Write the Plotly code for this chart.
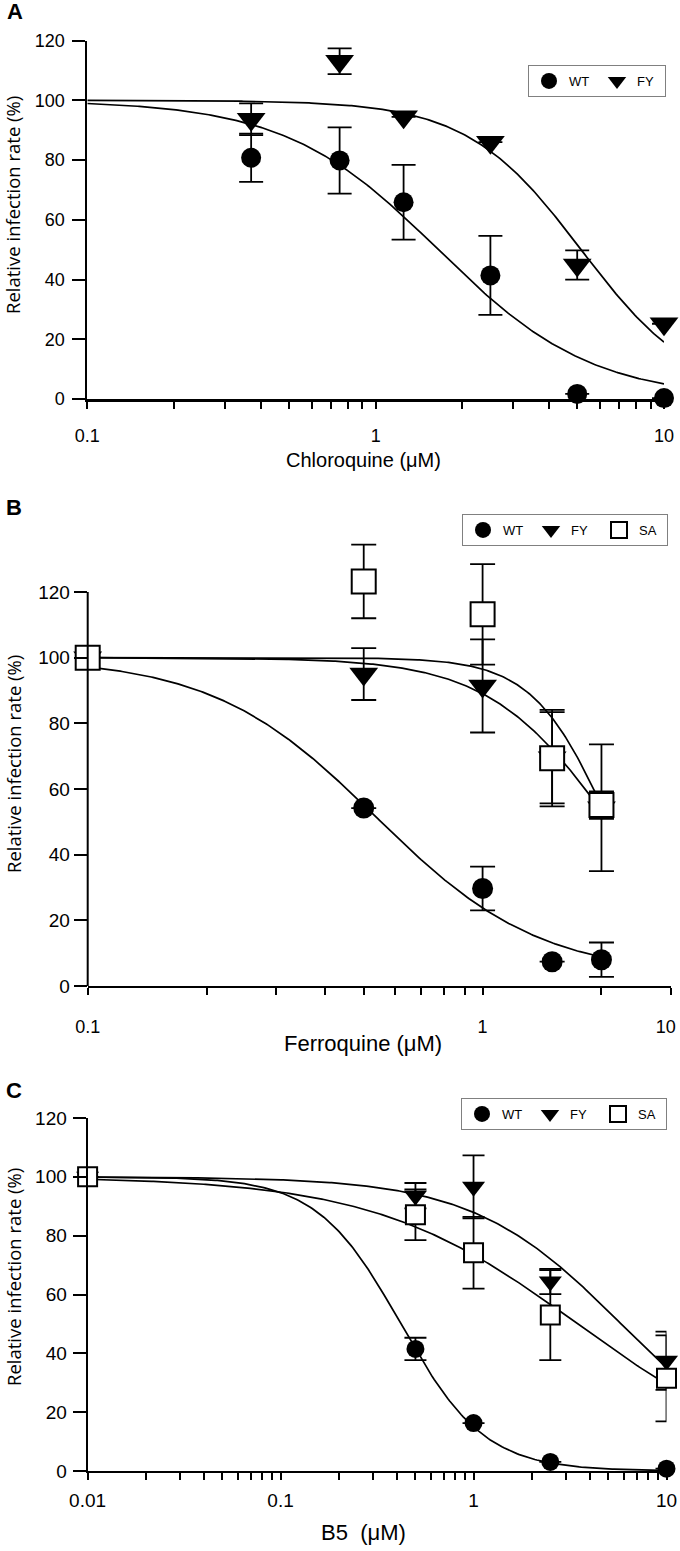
import numpy as np
import plotly.graph_objects as go

# ---------------- Panel A : Chloroquine ----------------
a_conc = [0.37, 0.75, 1.25, 2.5, 5, 10]
a_wt = [80.8, 79.9, 65.9, 41.4, 1.7, 0.3]
a_wt_err = [8.1, 11.1, 12.5, 13.2, None, None]
a_fy = [93.7, 113.1, 94.5, 86.0, 44.9, 25.2]
a_fy_err = [5.3, 4.3, None, None, 4.9, None]
# fitted dose-response parameters: top, bottom, IC50, Hill slope
a_wt_fit = [100, 0, 1.65, 1.63]
a_fy_fit = [100, 0, 5.16, 2.19]

# ---------------- Panel B : Ferroquine ----------------
b_conc = [0.1, 0.5, 1, 1.5, 2]
b_wt = [100, 54.2, 29.7, 7.4, 8.0]
b_wt_err = [None, None, 6.65, None, 5.25]
b_fy = [100, 95.0, 91.4, 69.5, 54.3]
b_fy_err = [None, 7.9, 14.2, 13.9, 19.3]
b_sa = [100, 123.2, 113.2, 69.4, 55.1]
b_sa_err = [None, 11.2, 15.3, 14.7, 4.2]
b_wt_fit = [100, 3, 0.537, 2.09]
b_fy_fit = [100, 0, 2.10, 2.82]
b_sa_fit = [100, 0, 2.09, 4.5]

# ---------------- Panel C : B5 ----------------
c_conc = [0.01, 0.5, 1, 2.5, 10]
c_wt = [100, 41.5, 16.3, 3.1, 0.8]
c_wt_err = [None, 3.8, None, None, None]
c_fy = [100, 93.6, 96.6, 64.4, 37.5]
c_fy_err = [None, 4.3, 10.7, 4.3, 9.9]
c_sa = [100, 87.1, 74.2, 53.0, 31.5]
c_sa_err = [None, 8.6, 12.2, 15.3, 14.6]
c_wt_fit = [100, 0, 0.42, 2.0]
c_fy_fit = [100, 0, 5.82, 1.127]
c_sa_fit = [100, 0, 3.46, 0.82]

y_ticks = [0, 20, 40, 60, 80, 100, 120]

W, H = 680, 1551
SANS = "Liberation Sans, Arial, sans-serif"
YTITLEFONT = dict(family="Open Sans, Liberation Sans", size=18.5, color="black")
LEGFONT = dict(family=SANS, size=13, color="black")


def px_x(p):
    return p / W


def px_y(p):
    return 1 - p / H


def hill(x, p):
    top, bottom, ic50, h = p
    x = np.asarray(x, dtype=float)
    return bottom + (top - bottom) / (1 + (x / ic50) ** h)


fig = go.Figure()

STYLES = {
    "WT": dict(symbol="circle", color="black", line=dict(color="black", width=0)),
    "FY": dict(symbol="triangle-down", color="black", line=dict(color="black", width=0)),
    "SA": dict(symbol="square", color="white", line=dict(color="black", width=2)),
}


def add_panel(xa, ya, leg, conc, series, x_start, msizes, capw):
    for name, vals, err, fit in series:
        xs = np.logspace(np.log10(x_start), np.log10(conc[-1]), 300)
        fig.add_trace(go.Scatter(
            x=xs, y=hill(xs, fit), mode="lines",
            line=dict(color="black", width=1.7),
            xaxis=xa, yaxis=ya, showlegend=False, hoverinfo="skip",
            cliponaxis=False))
    for name, vals, err, fit in series:
        st = STYLES[name]
        fig.add_trace(go.Scatter(
            x=conc, y=vals, mode="markers", name=name,
            marker=dict(symbol=st["symbol"], color=st["color"],
                        size=msizes[name], line=st["line"]),
            error_y=dict(type="data", array=err, visible=True,
                         color="black", thickness=1.8, width=capw),
            xaxis=xa, yaxis=ya, legend=leg, cliponaxis=False))


add_panel("x", "y", "legend", a_conc,
          [("WT", a_wt, a_wt_err, a_wt_fit), ("FY", a_fy, a_fy_err, a_fy_fit)],
          0.1, {"WT": 20, "FY": 25}, 12)
add_panel("x2", "y2", "legend2", b_conc,
          [("WT", b_wt, b_wt_err, b_wt_fit), ("FY", b_fy, b_fy_err, b_fy_fit),
           ("SA", b_sa, b_sa_err, b_sa_fit)],
          0.1, {"WT": 21, "FY": 25, "SA": 24}, 12.5)
add_panel("x3", "y3", "legend3", c_conc,
          [("WT", c_wt, c_wt_err, c_wt_fit), ("FY", c_fy, c_fy_err, c_fy_fit),
           ("SA", c_sa, c_sa_err, c_sa_fit)],
          0.01, {"WT": 18, "FY": 20, "SA": 19}, 11)


def minor_log(lo_exp, hi_val):
    vals = []
    e = lo_exp
    while True:
        for m in range(1, 10):
            v = m * 10 ** e
            if v > hi_val * 1.0001:
                return vals
            vals.append(v)
        e += 1


def xaxis(dom, rng, tv, tt, minor_vals, anchor, lw, standoff, fsize):
    return dict(type="log", range=rng, domain=dom, anchor=anchor,
                showline=True, linecolor="black", linewidth=lw,
                ticks="", tickvals=tv, ticktext=tt,
                tickfont=dict(family=SANS, size=fsize, color="black"),
                ticklabelstandoff=standoff, automargin=False,
                showgrid=False, zeroline=False, fixedrange=True,
                minor=dict(tickmode="array", tickvals=minor_vals, ticks="outside",
                           ticklen=7, tickwidth=2, tickcolor="black", showgrid=False))


def yaxis(dom, rng, anchor, showline, standoff, fsize):
    return dict(range=rng, domain=dom, anchor=anchor, showline=showline,
                linecolor="black", linewidth=2, ticks="outside", ticklen=13,
                tickwidth=2, tickcolor="black", tickvals=y_ticks,
                tickfont=dict(family=SANS, size=fsize, color="black"),
                ticklabelstandoff=standoff, automargin=False,
                showgrid=False, zeroline=False, fixedrange=True)


B_ZERO, B_120 = 986, 592
B_TOP = B_ZERO - 140 * (B_ZERO - B_120) / 120

fig.update_layout(
    xaxis=xaxis([px_x(87.3), px_x(664)], [-1, 1], [0.1, 1, 10], ["0.1", "1", "10"],
                minor_log(-1, 10), "y", 3, 18, 18),
    yaxis=yaxis([px_y(399), px_y(40.7)], [0, 120], "x", True, 4, 18),
    xaxis2=xaxis([px_x(87.7), px_x(671)], [-1, np.log10(3)], [0.1, 1, 2.91],
                 ["0.1", "1", "10"], minor_log(-1, 3), "y2", 2, 23, 18),
    yaxis2=yaxis([px_y(B_ZERO), px_y(B_TOP)], [0, 140], "x2", False, 0, 19),
    xaxis3=xaxis([px_x(87.6), px_x(666.5)], [-2, 1], [0.01, 0.1, 1, 10],
                 ["0.01", "0.1", "1", "10"], minor_log(-2, 10), "y3", 2, 11, 19),
    yaxis3=yaxis([px_y(1471), px_y(1118)], [0, 120], "x3", True, 2, 19),
)

# y axis line of panel B only spans 0-120
fig.add_shape(type="line", xref="x2 domain", yref="y2", x0=0, x1=0, y0=0, y1=120,
              line=dict(color="black", width=2))


def legend(top_px, right_px, ew):
    return dict(orientation="h", x=px_x(right_px), xanchor="right",
                y=px_y(top_px), yanchor="top", bordercolor="#808080",
                borderwidth=1, bgcolor="white", font=LEGFONT,
                entrywidth=ew, entrywidthmode="pixels", itemwidth=30,
                tracegroupgap=0)


fig.update_layout(legend=legend(65, 666, 23), legend2=legend(514, 668, 23),
                  legend3=legend(1098, 667, 23))

ann = []
for letter, xp, yp in [("A", 15, 12), ("B", 14, 507), ("C", 14, 1090)]:
    ann.append(dict(text="<b>%s</b>" % letter, x=px_x(xp), y=px_y(yp), xref="paper",
                    yref="paper", showarrow=False, xanchor="center", yanchor="middle",
                    font=dict(family=SANS, size=22, color="black")))
for yp in [205, 764, 1277]:
    ann.append(dict(text="Relative infection rate (%)", x=px_x(13), y=px_y(yp),
                    xref="paper", yref="paper", showarrow=False, textangle=-90,
                    xanchor="center", yanchor="middle", font=YTITLEFONT))
for txt, yp, fs in [("Chloroquine (μM)", 460, 20), ("Ferroquine (μM)", 1043, 22),
                    ("B5\u00a0 (μM)", 1532, 22)]:
    ann.append(dict(text=txt, x=px_x(363), y=px_y(yp), xref="paper", yref="paper",
                    showarrow=False, xanchor="center", yanchor="middle",
                    font=dict(family=SANS, size=fs, color="black")))

fig.update_layout(width=W, height=H, margin=dict(l=0, r=0, t=0, b=0, pad=0),
                  plot_bgcolor="white", paper_bgcolor="white", annotations=ann,
                  showlegend=True)

fig.write_html("out.html", config={"displayModeBar": False},
               post_script="document.body.style.margin='0px';"
                           "document.body.style.padding='0px';")
